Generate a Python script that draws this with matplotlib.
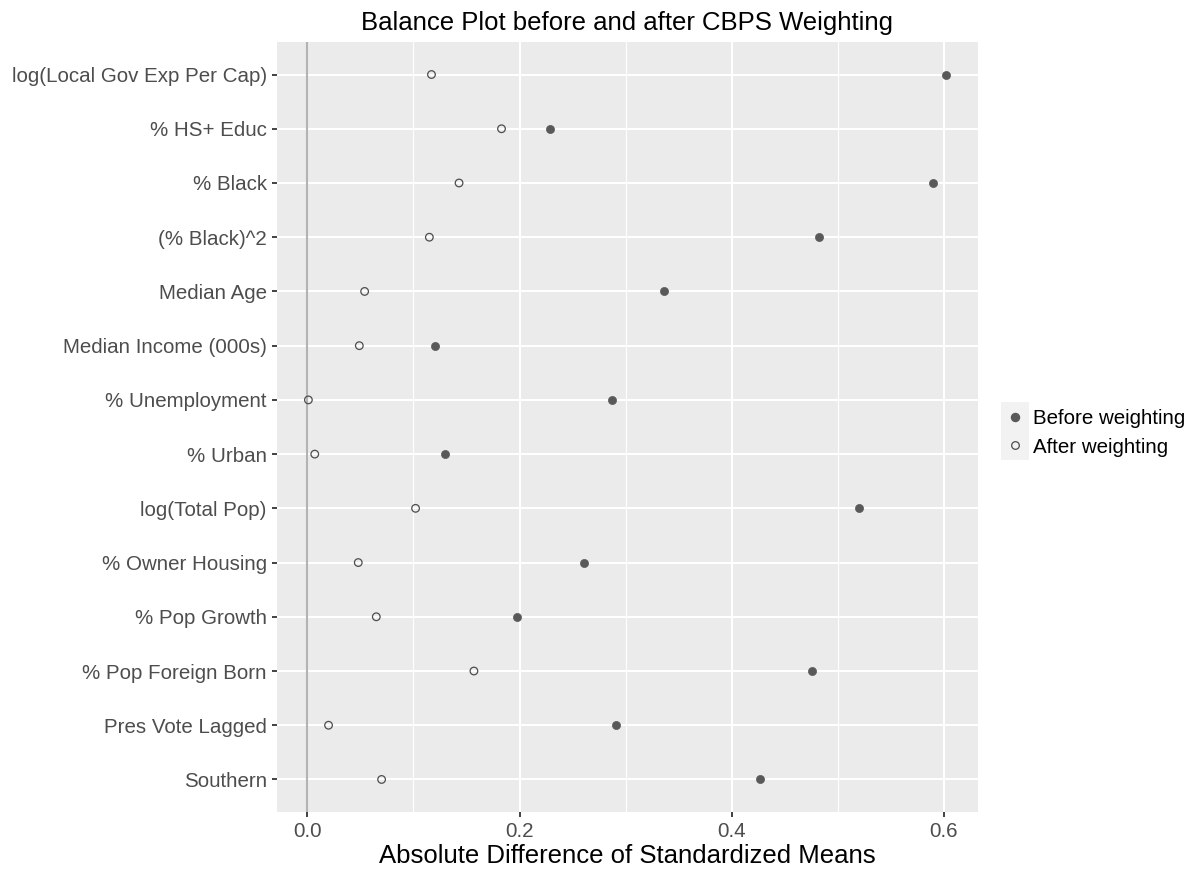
import numpy as np
import matplotlib
matplotlib.use("Agg")
import matplotlib.pyplot as plt
from matplotlib.patches import Rectangle
from matplotlib.lines import Line2D

plt.rcParams['font.family'] = ['Liberation Sans', 'DejaVu Sans']

covariates = [
    "log(Local Gov Exp Per Cap)",
    "% HS+ Educ",
    "% Black",
    "(% Black)^2",
    "Median Age",
    "Median Income (000s)",
    "% Unemployment",
    "% Urban",
    "log(Total Pop)",
    "% Owner Housing",
    "% Pop Growth",
    "% Pop Foreign Born",
    "Pres Vote Lagged",
    "Southern",
]

before_weighting = [0.602, 0.229, 0.590, 0.482, 0.336, 0.120, 0.287,
                    0.130, 0.520, 0.261, 0.198, 0.476, 0.291, 0.427]
after_weighting = [0.117, 0.183, 0.143, 0.115, 0.054, 0.049, 0.001,
                   0.007, 0.102, 0.048, 0.065, 0.157, 0.020, 0.070]

x_ticks = [0.0, 0.2, 0.4, 0.6]
x_tick_labels = ["0.0", "0.2", "0.4", "0.6"]

W, H = 1195, 869

def fx(px):
    return px / W

def fy(py):
    return 1 - py / H

fig = plt.figure(figsize=(W / 100, H / 100), dpi=100)
ax = fig.add_axes([fx(276.5), fy(812), fx(978) - fx(276.5), fy(42) - fy(812)])

n = len(covariates)
ypos = np.arange(n)[::-1]

ax.set_facecolor('#EBEBEB')
for s in ax.spines.values():
    s.set_visible(False)

# ggplot-style grid
for v in [0.1, 0.3, 0.5]:
    ax.axvline(v, color='white', lw=0.85, zorder=1)
for v in x_ticks:
    ax.axvline(v, color='white', lw=1.5, zorder=1)
for y in ypos:
    ax.axhline(y, color='white', lw=1.5, zorder=1)

ax.axvline(0, color='#B3B3B3', lw=1.5, zorder=2)

ax.scatter(before_weighting, ypos, s=34, color='#595959', edgecolors='#595959',
           linewidths=0.5, zorder=3)
ax.scatter(after_weighting, ypos, s=30, facecolors='none', edgecolors='#4D4D4D',
           linewidths=0.9, zorder=3)

allv = before_weighting + after_weighting
span = max(allv) - min(allv)
ax.set_xlim(min(allv) - 0.05 * span, max(allv) + 0.05 * span)
ax.set_ylim(-0.6, n - 1 + 0.6)

ax.set_xticks(x_ticks)
ax.set_xticklabels(x_tick_labels)
ax.set_yticks(ypos)
ax.set_yticklabels(covariates)
ax.tick_params(axis='both', length=3.6, width=1.3, color='#333333',
               labelcolor='#4D4D4D', labelsize=14.8, pad=3.4)

fig.text(fx(627), fy(30), "Balance Plot before and after CBPS Weighting",
         ha='center', va='baseline', fontsize=18.5, color='black')
fig.text(fx(627), fy(863), "Absolute Difference of Standardized Means",
         ha='center', va='baseline', fontsize=18.5, color='black')

# legend
legend_rows = [("Before weighting", 402, True), ("After weighting", 431, False)]
for label, top, filled in legend_rows:
    fig.add_artist(Rectangle((fx(1001), fy(top + 29)), fx(28), 29 / H,
                             transform=fig.transFigure, facecolor='#F2F2F2',
                             edgecolor='none'))
    cy = top + 14.5
    if filled:
        mk = Line2D([fx(1015)], [fy(cy)], marker='o', ms=5.8, color='#595959',
                    mec='#595959', transform=fig.transFigure, ls='none')
    else:
        mk = Line2D([fx(1015)], [fy(cy)], marker='o', ms=5.5, mfc='none',
                    mec='#4D4D4D', mew=0.9, transform=fig.transFigure, ls='none')
    fig.add_artist(mk)
    fig.text(fx(1033), fy(cy), label, ha='left', va='center_baseline',
             fontsize=14.8, color='black')

fig.savefig("out.png", dpi=100)
